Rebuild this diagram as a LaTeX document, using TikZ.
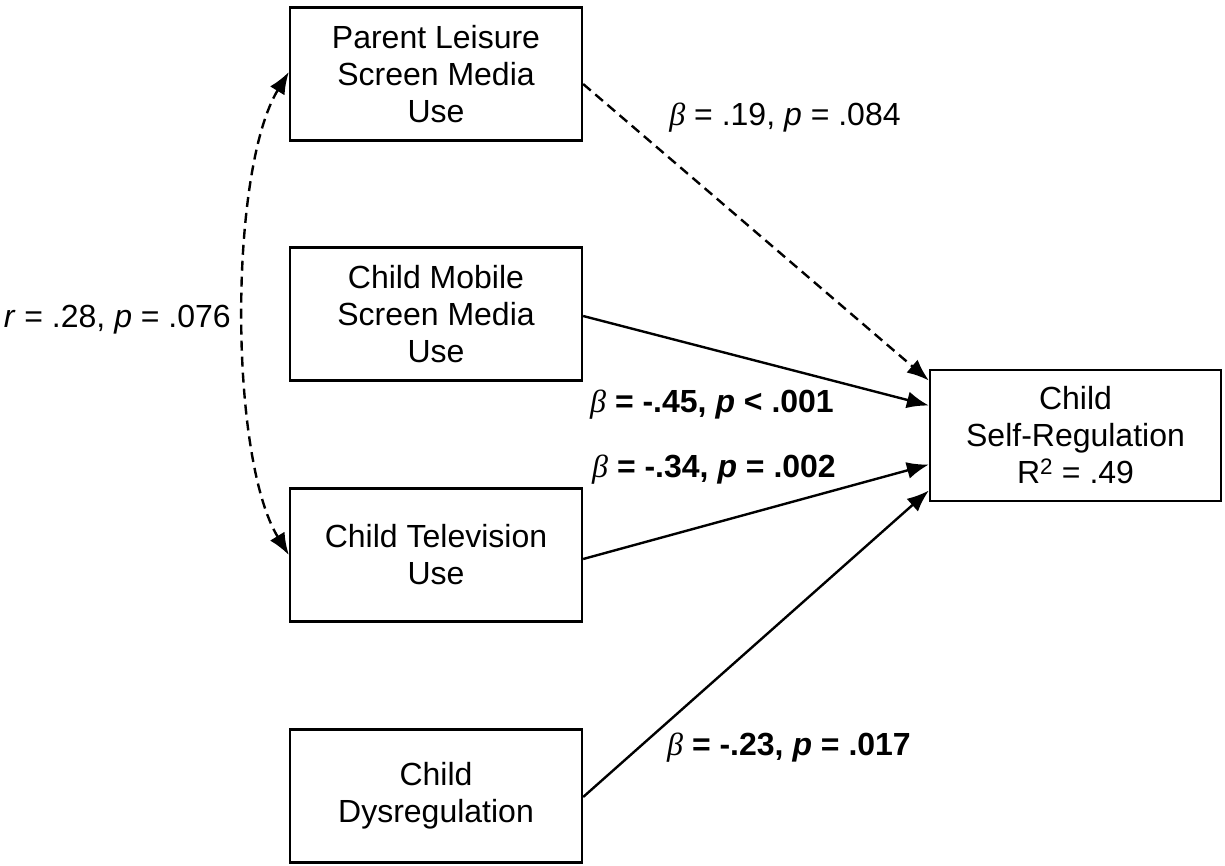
\documentclass[tikz,border=0pt]{standalone}
\usepackage{fontspec}
\setmainfont{Liberation Sans}
\newfontfamily\betafont{Liberation Serif}
\newcommand{\bt}{{\betafont\itshape\mdseries β}}
\usetikzlibrary{arrows.meta}
\begin{document}
\begin{tikzpicture}[x=1pt,y=-1pt,
  box/.style={draw,line width=2.3pt,minimum width=292pt,minimum height=133pt,align=center,inner sep=0pt,font=\fontsize{32}{37}\selectfont},
  lbl/.style={inner sep=0pt,font=\fontsize{32}{37}\selectfont},
  con/.style={line width=2.4pt,-{Latex[length=22pt,width=17pt]}},
  dsh/.style={dash pattern=on 10pt off 6pt}]
\useasboundingbox (0,0) rectangle (1225,865);
\node[box] (par) at (436,74) {Parent Leisure\\Screen Media\\Use};
\node[box] (mob) at (436,314) {Child Mobile\\Screen Media\\Use};
\node[box] (tv) at (436,555) {Child Television\\Use};
\node[box] (dys) at (436,796) {Child\\Dysregulation};
\node[box,minimum width=291pt,minimum height=131pt] (sr) at (1075.5,435.5) {Child\\Self-Regulation\\R\textsuperscript{2} = .49};
\draw[con,dsh] ([yshift=-10pt]par.east) -- ([yshift=55pt]sr.west);
\draw[con] ([yshift=-2pt]mob.east) -- ([yshift=30pt]sr.west);
\draw[con] ([yshift=-4pt]tv.east) -- ([yshift=-29pt]sr.west);
\draw[con] ([yshift=-1pt]dys.east) -- ([yshift=-55pt]sr.west);
\draw[line width=2.4pt,dsh,{Latex[length=22pt,width=17pt]}-{Latex[length=22pt,width=17pt]}] ([yshift=2pt]par.west) .. controls +(-60,98) and +(-60,-98) .. (tv.west);
\node[lbl,anchor=east] (rl) at (231,320) {\textit{r} = .28, \textit{p} = .076};
\node[lbl] (l1) at (785,118) {\bt{} = .19, \textit{p} = .084};
\node[lbl] (l2) at (712,405) {\bt{} \textbf{= -.45, \textit{p} < .001}};
\node[lbl] (l3) at (714,470) {\bt{} \textbf{= -.34, \textit{p} = .002}};
\node[lbl] (l4) at (789,748) {\bt{} \textbf{= -.23, \textit{p} = .017}};
\end{tikzpicture}
\end{document}
